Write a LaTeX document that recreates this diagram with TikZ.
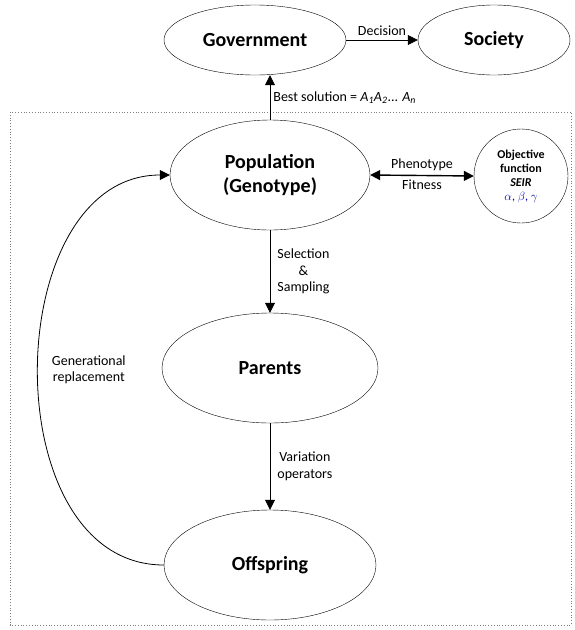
\documentclass[tikz,border=0pt]{standalone}
\usepackage{fontspec}
\setmainfont{Carlito}
\usepackage{tikz}
\usepackage{xcolor}
\usetikzlibrary{shapes.geometric,arrows.meta}

\begin{document}
\begin{tikzpicture}[x=1pt, y=-1pt,
            oval/.style={ellipse, draw, inner sep=0pt, align=center, font=\fontsize{20}{24}\selectfont\bfseries},
            objbox/.style={circle, draw, inner sep=0pt, minimum size=94pt, align=center, font=\fontsize{12}{14}\selectfont},
            lbl/.style={font=\fontsize{14}{16.5}\selectfont, align=center, inner sep=1pt},
            arrow/.style={-{Triangle[length=10pt, width=10pt]}, line width=0.8pt},
            dblarrow/.style={{Triangle[length=10pt, width=10pt]}-{Triangle[length=10pt, width=10pt]}, line width=1.4pt}
        ]
            \useasboundingbox (0,0) rectangle (574,630);
            \draw[gray, dotted, line width=0.8pt] (10,112) rectangle (571,625);

            \node[oval, minimum width=182pt, minimum height=70pt] (gov) at (255,40) {Government};
            \node[oval, minimum width=152pt, minimum height=70pt] (soc) at (494,40) {Society};
            \node[oval, minimum width=200pt, minimum height=110pt] (pop) at (270,175) {Population\\(Genotype)};
            \node[objbox] (obj) at (521,176) {\textbf{Objective}\\\textbf{function}\\\textbf{\textit{SEIR}}\\\textcolor{blue!70!black}{$\alpha$, $\beta$, $\gamma$}};
            \node[oval, minimum width=216pt, minimum height=110pt] (par) at (270,368) {Parents};
            \node[oval, minimum width=212pt, minimum height=110pt] (off) at (270,565) {Offspring};

            \draw[arrow] (gov) -- node[lbl, above=3pt] {Decision} (soc);
            \draw[arrow] (pop.north -| 270,0) -- node[lbl, right=2pt] {Best solution = \textit{A\textsubscript{1}A\textsubscript{2}}... \textit{A\textsubscript{n}}} (gov.south -| 270,0);
            \draw[dblarrow] (pop.east) -- node[lbl, above=3pt] {Phenotype} node[lbl, below=3pt] {Fitness} (obj.west);
            \draw[arrow] (pop) -- node[lbl, right=6pt] {Selection\\\&\\Sampling} (par);
            \draw[arrow] (par) -- node[lbl, right=6pt] {Variation\\operators} (off);
            \draw[arrow] (off.west) to[out=180, in=180, looseness=1.12] node[lbl, right=12pt] {Generational\\replacement} (pop.west);
        \end{tikzpicture}
\end{document}
